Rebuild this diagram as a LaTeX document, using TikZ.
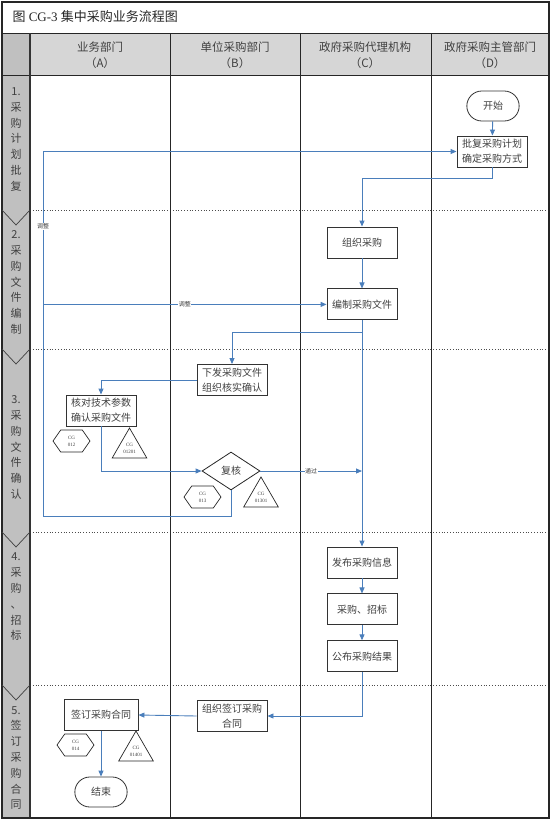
\documentclass[tikz,border=0pt]{standalone}
\usepackage{fontspec}
\setmainfont{Liberation Serif}
\newfontfamily\cjk{Noto Sans CJK SC}
\usetikzlibrary{shapes.geometric,shapes.misc,shapes.symbols,arrows.meta,positioning,calc}
\definecolor{FlowBlue}{HTML}{4A7EBB}
\definecolor{LaneGray}{HTML}{C0C0C0}
\definecolor{HeadGray}{HTML}{D6D6D6}
\definecolor{InkGray}{HTML}{404040}
\tikzset{
    % process boxes, sharp corners
    procbox/.style={
        rectangle,
        draw=black!80,
        fill=white,
        line width=0.9pt,
        minimum width=70pt,
        minimum height=31pt,
        inner sep=1pt,
        align=center,
        text=InkGray,
        font=\cjk\fontsize{10}{15}\selectfont
    },
    termbox/.style={
        rounded rectangle,
        draw=black!80,
        fill=white,
        line width=0.8pt,
        minimum width=59pt,
        minimum height=30pt,
        text=InkGray,
        font=\cjk\fontsize{10}{12}\selectfont
    },
    checkbox/.style={
        diamond,
        draw=black!85,
        fill=white,
        line width=0.8pt,
        minimum width=58pt,
        minimum height=38pt,
        inner sep=0pt,
        text=InkGray,
        font=\cjk\fontsize{10}{12}\selectfont
    },
    cgtag/.style={
        signal,
        signal to=west and east,
        signal pointer angle=110,
        draw=black!85,
        line width=0.7pt,
        minimum width=37pt,
        minimum height=22pt,
        inner sep=0pt,
        align=center,
        text=InkGray,
        font=\fontsize{5}{7}\selectfont
    },
    risktag/.style={
        regular polygon,
        regular polygon sides=3,
        draw=black!85,
        line width=0.7pt,
        minimum size=40pt,
        inner sep=0pt,
        align=center,
        text=InkGray,
        font=\fontsize{5}{7}\selectfont
    },
    flow/.style={
        draw=FlowBlue,
        line width=0.9pt,
        -{Triangle[length=6pt,width=5pt]}
    },
    flowlabel/.style={
        fill=white,
        inner sep=0.5pt,
        text=InkGray,
        font=\cjk\fontsize{6}{7}\selectfont
    }
}

\begin{document}
\begin{tikzpicture}[
        x=1pt, y=-1pt,
        lane/.style={draw=black!85, line width=1pt},
        phaseline/.style={draw=black!70, dotted, line width=0.8pt},
        notch/.style={draw=black!75, line width=0.7pt},
        headtext/.style={align=center, text=InkGray, font=\cjk\fontsize{11.5}{16}\selectfont},
        stagetext/.style={align=center, text=InkGray, font=\cjk\fontsize{11}{15.8}\selectfont}
    ]
    \useasboundingbox (0,0) rectangle (554,820);

    % lanes and phases
    \fill[LaneGray] (2,33) rectangle (30,818);
    \fill[HeadGray] (30,33) rectangle (549,75);
    \draw[phaseline] (30,210) -- (549,210);
    \draw[phaseline] (30,349) -- (549,349);
    \draw[phaseline] (30,532) -- (549,532);
    \draw[phaseline] (30,685) -- (549,685);
    \draw[lane] (170,33) -- (170,818);
    \draw[lane] (300,33) -- (300,818);
    \draw[lane] (431,33) -- (431,818);
    \draw[lane] (2,33) -- (549,33);
    \draw[lane] (2,75) -- (549,75);
    \draw[line width=1.6pt, black!80] (30,33) -- (30,818);
    \draw[line width=1.2pt, black!85] (2,2) rectangle (549,818);
    \draw[notch] (2,210) -- (16,225) -- (30,210);
    \draw[notch] (2,349) -- (16,364) -- (30,349);
    \draw[notch] (2,532) -- (16,547) -- (30,532);
    \draw[notch] (2,685) -- (16,700) -- (30,685);

    \node[anchor=west, text=black!85, font=\fontsize{13}{15}\selectfont] (title) at (9,17)
        {{\cjk 图} CG-3 {\cjk 集中采购业务流程图}};

    \node[headtext] (headA) at (100,55) {业务部门\\（A）};
    \node[headtext] (headB) at (235,55) {单位采购部门\\（B）};
    \node[headtext] (headC) at (365,55) {政府采购代理机构\\（C）};
    \node[headtext] (headD) at (490,55) {政府采购主管部门\\（D）};

    \node[stagetext] (stage1) at (16,139.5) {1.\\采\\购\\计\\划\\批\\复};
    \node[stagetext] (stage2) at (16,282.5) {2.\\采\\购\\文\\件\\编\\制};
    \node[stagetext] (stage3) at (16,447.5) {3.\\采\\购\\文\\件\\确\\认};
    \node[stagetext] (stage4) at (16,597) {4.\\采\\购\\、\\招\\标};
    \node[stagetext] (stage5) at (16,758) {5.\\签\\订\\采\\购\\合\\同};

    % steps
    \node[termbox] (start) at (493,106) {开始};
    \node[procbox] (approve) at (492,151.5) {批复采购计划\\确定采购方式};
    \node[procbox] (organize) at (362,242.5) {组织采购};
    \node[procbox, below=30pt of organize] (compile) {编制采购文件};
    \node[procbox] (issue) at (232,380) {下发采购文件\\组织核实确认};
    \node[procbox] (check) at (101,410.5) {核对技术参数\\确认采购文件};
    \node[cgtag] (cg012) at (71.5,441) {CG\\012};
    \node[risktag] (cg01201) at (129.5,448) {CG\\01201};
    \node[checkbox] (review) at (231,471) {复核};
    \node[cgtag] (cg013) at (202.5,497) {CG\\013};
    \node[risktag] (cg01301) at (261,497) {CG\\01301};
    \node[procbox] (publish) at (362,562.5) {发布采购信息};
    \node[procbox, below=15pt of publish] (bid) {采购、招标};
    \node[procbox, below=15pt of bid] (announce) {公布采购结果};
    \node[procbox] (orgsign) at (232,716) {组织签订采购\\合同};
    \node[procbox, minimum width=74pt] (sign) at (101,715) {签订采购合同};
    \node[cgtag] (cg014) at (75.5,745) {CG\\014};
    \node[risktag] (cg01401) at (136,751) {CG\\01401};
    \node[termbox] (finish) at (101,792) {结束};

    \coordinate (backcorner) at (43,516);
    \coordinate (passend) at (compile.south |- review.east);

    % arrows
    \draw[flow] (start) -- (approve);
    \draw[flow] (approve.south) -- ++(0,11) -| (organize.north);
    \draw[flow] (organize) -- (compile);
    \draw[flow] (compile.south) -- ++(0,12) -| (issue.north);
    \draw[flow] (compile.south) -- (publish.north);
    \draw[flow] (issue.west) -| (check.north);
    \draw[flow] (check.south) |- (review.west);
    \draw[flow] (review.east) -- node[flowlabel] {通过} (passend);
    \draw[flow] (review.south) |- (backcorner) |- node[flowlabel, pos=0.397] {调整} (approve.west);
    \draw[flow] (backcorner |- compile.west) -- node[flowlabel] {调整} (compile.west);
    \draw[flow] (publish) -- (bid);
    \draw[flow] (bid) -- (announce);
    \draw[flow] (announce.south) |- (orgsign.east);
    \draw[flow] (orgsign.west) -- (sign.east);
    \draw[flow] (sign.south) -- (finish.north);
\end{tikzpicture}
\end{document}
